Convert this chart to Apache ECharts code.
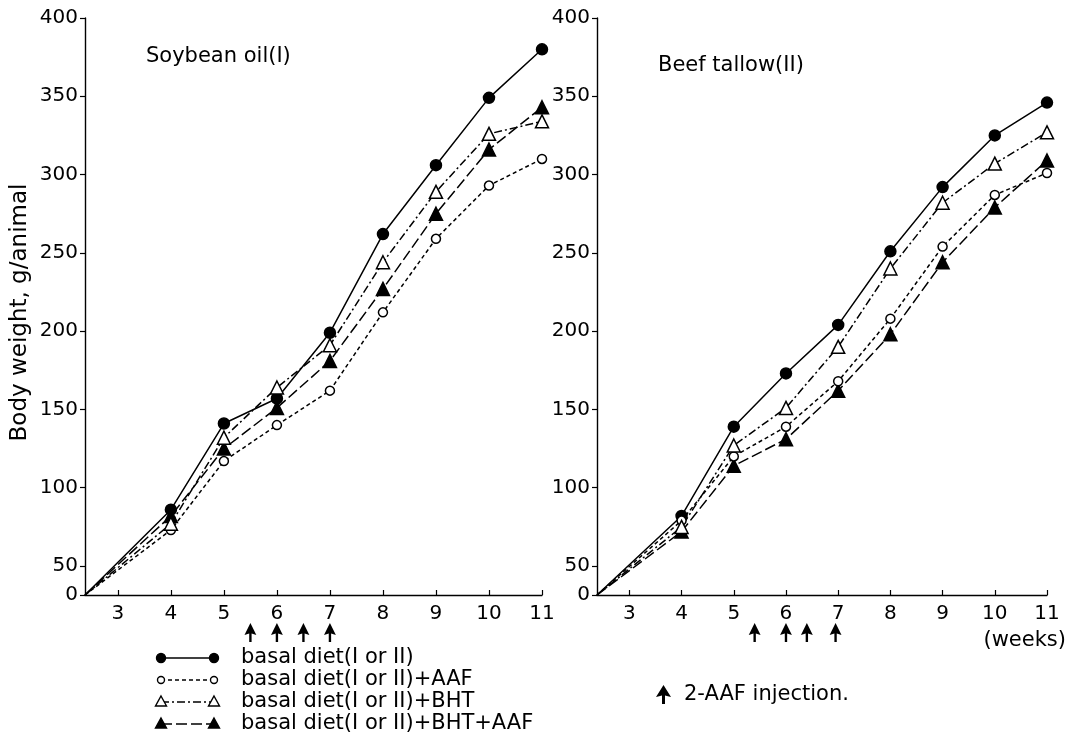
<!DOCTYPE html>
<html>
<head>
<meta charset="utf-8">
<script src="https://cdn.jsdelivr.net/npm/echarts@6/dist/echarts.min.js"></script>
<style>
html,body{margin:0;padding:0;background:#fff;}
#chart{width:1079px;height:745px;}
</style>
</head>
<body>
<div id="chart"></div>
<script>
// ---------------- data ----------------
const weeks = [4, 5, 6, 7, 8, 9, 10, 11];
const seriesNames = [
  'basal diet(I or II)',
  'basal diet(I or II)+AAF',
  'basal diet(I or II)+BHT',
  'basal diet(I or II)+BHT+AAF'
];
// Soybean oil (I)
const soyBasal  = [86, 141, 157, 199, 262, 306, 349, 380];
const soyAAF    = [73, 117, 140, 162, 212, 259, 293, 310];
const soyBHT    = [77, 132, 164, 191, 244, 289, 326, 334];
const soyBHTAAF = [82, 125, 151, 181, 227, 275, 316, 343];
// Beef tallow (II)
const beefBasal  = [82, 139, 173, 204, 251, 292, 325, 346];
const beefAAF    = [79, 120, 139, 168, 208, 254, 287, 301];
const beefBHT    = [75, 127, 151, 190, 240, 282, 307, 327];
const beefBHTAAF = [72, 114, 131, 162, 198, 244, 279, 309];
// injection times (weeks)
const injectionI  = [5.5, 6, 6.5, 7];
const injectionII = [5.4, 6, 6.4, 6.95];
// tick labels
const xTickLabels = [3, 4, 5, 6, 7, 8, 9, 10, 11];
const yTickLabels = [0, 50, 100, 150, 200, 250, 300, 350, 400];
const panelTitles = ['Soybean oil(I)', 'Beef tallow(II)'];

// ---------------- layout / style constants ----------------
const FONT = 'DejaVu Sans';
const X_MIN = 2.38, X_MAX = 11;
const Y_BREAK = 31.5;   // the broken axis: "0" sits at the origin
const Y_MAX = 400;
const ARROW_Y = 7.5;    // arrows drawn just below the x axis
const yTickValues = yTickLabels.map(v => v === 0 ? Y_BREAK : v);

const styles = [
  { symbol: 'circle',   size: 11, fill: '#000', dash: 'solid' },
  { symbol: 'circle',   size: 9,  fill: '#fff', dash: [4, 3] },
  { symbol: 'triangle', size: 13, fill: '#fff', dash: [8, 3, 2, 3] },
  { symbol: 'triangle', size: 13, fill: '#000', dash: [11, 4] }
];
const arrowPts = [[7.5,0],[15,12],[9,10.5],[9,19],[6,19],[6,10.5],[0,12]];
const arrowPath = 'path://M' + arrowPts.map(p => p[0] + ',' + p[1]).join(' L') + ' Z';

const grids = [
  { left: 85,  top: 18, width: 457, height: 577 },
  { left: 597, top: 18, width: 450, height: 577 }
];

function xAxis(i) {
  return {
    type: 'value', gridIndex: i, min: X_MIN, max: X_MAX,
    axisLine: { lineStyle: { color: '#000', width: 1.4 } },
    axisTick: { show: true, inside: true, length: 5, customValues: xTickLabels, lineStyle: { color: '#000', width: 1.2 } },
    axisLabel: { customValues: xTickLabels, margin: 9, color: '#000', fontFamily: FONT, fontSize: 20 },
    splitLine: { show: false }
  };
}
function yAxis(i) {
  const ax = {
    type: 'value', gridIndex: i, min: Y_BREAK, max: Y_MAX,
    axisLine: { show: true, lineStyle: { color: '#000', width: 1.4 } },
    axisTick: { show: true, inside: false, length: 5, customValues: yTickValues, lineStyle: { color: '#000', width: 1.2 } },
    axisLabel: {
      customValues: yTickValues, margin: 7, color: '#000', fontFamily: FONT, fontSize: 20,
      formatter: v => (Math.abs(v - Y_BREAK) < 1e-6 ? '0' : String(v))
    },
    splitLine: { show: false }
  };
  if (i === 0) {
    ax.name = 'Body weight, g/animal';
    ax.nameLocation = 'middle';
    ax.nameGap = 53;
    ax.nameTextStyle = { color: '#000', fontFamily: FONT, fontSize: 23, padding: [0, 12, 0, 0] };
  }
  return ax;
}

function lineSeries(i, name, values, st) {
  const data = [{ value: [X_MIN, Y_BREAK], symbol: 'none' }]
    .concat(weeks.map((w, k) => [w, values[k]]));
  return {
    type: 'line', name: name, xAxisIndex: i, yAxisIndex: i,
    data: data, symbol: st.symbol, symbolSize: st.size, showAllSymbol: true,
    lineStyle: { color: '#000', width: 1.5, type: st.dash },
    itemStyle: { color: st.fill, borderColor: '#000', borderWidth: 1.5 },
    z: st.fill === '#000' ? 3 : 4,
    animation: false
  };
}
function arrowSeries(i, list) {
  return {
    type: 'scatter', xAxisIndex: i, yAxisIndex: i, clip: false,
    data: list.map(w => [w, ARROW_Y]),
    symbol: arrowPath, symbolSize: [15, 19], symbolKeepAspect: true,
    itemStyle: { color: '#000', opacity: 1 }, silent: true, animation: false
  };
}

const panels = [
  [soyBasal, soyAAF, soyBHT, soyBHTAAF],
  [beefBasal, beefAAF, beefBHT, beefBHTAAF]
];
const series = [];
panels.forEach((p, i) => {
  p.forEach((vals, k) => series.push(lineSeries(i, seriesNames[k], vals, styles[k])));
});
series.push(arrowSeries(0, injectionI));
series.push(arrowSeries(1, injectionII));

// legend drawn as graphic rows (line + both end markers + label)
const legendRowsY = [658, 680, 702, 724];
const legendGraphics = [];
seriesNames.forEach((nm, k) => {
  const st = styles[k], y = legendRowsY[k];
  const x1 = 161, x2 = 214;
  legendGraphics.push({
    type: 'line', shape: { x1: x1, y1: y, x2: x2, y2: y },
    style: { stroke: '#000', lineWidth: 1.5, lineDash: st.dash === 'solid' ? null : st.dash }
  });
  [x1, x2].forEach(cx => {
    if (st.symbol === 'circle') {
      legendGraphics.push({
        type: 'circle', shape: { cx: cx, cy: y, r: st.fill === '#000' ? 4.5 : 3.5 },
        style: { fill: st.fill, stroke: '#000', lineWidth: 1.4 }, z: 10
      });
    } else {
      legendGraphics.push({
        type: 'polygon', shape: { points: [[cx, y - 6], [cx + 5.5, y + 4], [cx - 5.5, y + 4]] },
        style: { fill: st.fill, stroke: '#000', lineWidth: 1.4 }, z: 10
      });
    }
  });
  legendGraphics.push({
    type: 'text', x: 241, y: y, style: {
      text: nm, fill: '#000', font: '21px "' + FONT + '"', textVerticalAlign: 'middle'
    }
  });
});
// injection key (arrow glyph)
const ax0 = 656, ay0 = 685;
legendGraphics.push({
  type: 'polygon',
  shape: { points: arrowPts.map(p => [p[0] + ax0, p[1] + ay0]) },
  style: { fill: '#000' }
});
legendGraphics.push({
  type: 'text', x: 684, y: 695, style: {
    text: '2-AAF injection.', fill: '#000', font: '21px "' + FONT + '"', textVerticalAlign: 'middle'
  }
});
legendGraphics.push({
  type: 'text', x: 1066, y: 641, style: {
    text: '(weeks)', fill: '#000', font: '21px "' + FONT + '"', textVerticalAlign: 'middle', textAlign: 'right'
  }
});

const option = {
  backgroundColor: '#fff',
  animation: false,
  title: [
    { text: panelTitles[0], left: 146, top: 46, padding: 0, textStyle: { fontFamily: FONT, fontSize: 21, fontWeight: 'normal', color: '#000' } },
    { text: panelTitles[1], left: 658, top: 55, padding: 0, textStyle: { fontFamily: FONT, fontSize: 21, fontWeight: 'normal', color: '#000' } }
  ],
  grid: grids,
  xAxis: [xAxis(0), xAxis(1)],
  yAxis: [yAxis(0), yAxis(1)],
  series: series,
  graphic: legendGraphics
};

const chart = echarts.init(document.getElementById('chart'), null, { renderer: 'canvas' });
chart.setOption(option);
</script>
</body>
</html>
